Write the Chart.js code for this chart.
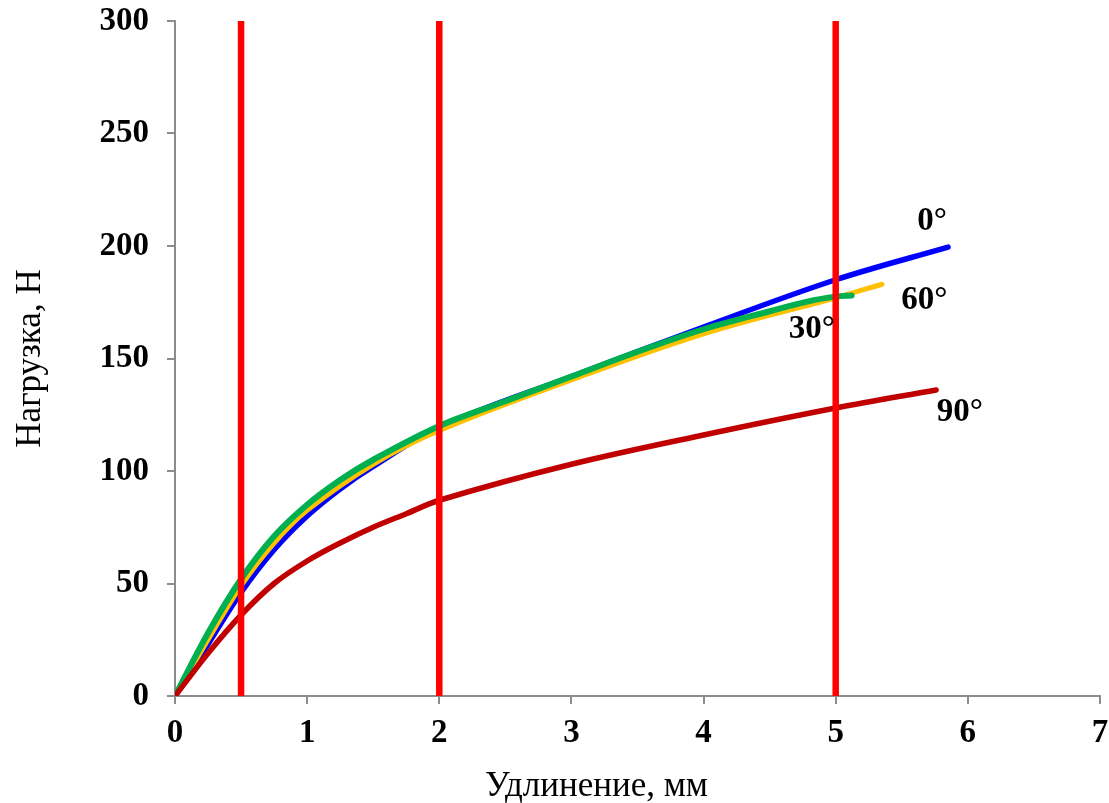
<!DOCTYPE html>
<html>
<head>
<meta charset="utf-8">
<script src="https://cdn.jsdelivr.net/npm/chart.js@4.4.0/dist/chart.umd.min.js"></script>
<style>
html,body{margin:0;padding:0;background:#fff;}
#wrap{width:1109px;height:803px;}
</style>
</head>
<body>
<div id="wrap"><canvas id="c" width="1109" height="803"></canvas></div>
<script>
const xTitle = "Удлинение, мм";
const yTitle = "Нагрузка, Н";

const x0 = [0, 0.25, 0.5, 0.75, 1, 1.25, 1.5, 2, 3, 4, 5, 5.85];
const y0 = [0, 23, 46, 65, 80, 92, 102, 119.5, 142, 164, 185, 199.5];

const x30 = [0, 0.25, 0.5, 0.75, 1, 1.25, 1.5, 2, 2.5, 3, 3.5, 4, 4.5, 4.8, 5, 5.12];
const y30 = [0, 28, 52, 71, 85, 96, 105, 120, 131, 142, 153, 163, 171, 175.5, 177.5, 178];

const x60 = [0, 0.25, 0.5, 0.75, 1, 1.5, 2, 3, 4, 5, 5.35];
const y60 = [0, 25, 49, 68, 82.5, 103, 118, 140.5, 161, 177, 183];

const x90 = [0, 0.25, 0.5, 0.75, 1, 1.25, 1.5, 1.75, 2, 3, 4, 5, 5.76];
const y90 = [0, 19, 36, 50, 60, 68, 75, 81, 87, 103, 116, 128, 136];

const markerX = [0.5, 2, 5];
const markerY = [0, 300];

const labelText = ["0°", "30°", "60°", "90°"];
const labelX = [5.73, 4.82, 5.67, 5.94];
const labelY = [211, 163, 176, 126];

const xTicks = [0, 1, 2, 3, 4, 5, 6, 7];
const yTicks = [0, 50, 100, 150, 200, 250, 300];

function pts(xs, ys) { return xs.map((x, i) => ({x: x, y: ys[i]})); }

const serif = "'Liberation Serif', 'Times New Roman', serif";

const curve = (label, xs, ys, color, w, order) => ({
  label, data: pts(xs, ys), borderColor: color, backgroundColor: color,
  borderWidth: w, pointRadius: 0, tension: 0.35, fill: false, order,
  borderCapStyle: 'round', borderJoinStyle: 'round'
});

const datasets = [
  curve("0°", x0, y0, "#0000FF", 5.5, 4),
  curve("60°", x60, y60, "#FFC000", 5, 3),
  curve("30°", x30, y30, "#00B050", 6, 2),
  curve("90°", x90, y90, "#C00000", 5.5, 1)
];
markerX.forEach(mx => {
  datasets.push({
    label: "m" + mx, data: markerY.map(v => ({x: mx, y: v})),
    borderColor: "#FF0000", borderWidth: 6.5, pointRadius: 0, tension: 0, order: 0,
    borderCapStyle: 'butt'
  });
});

const labelPlugin = {
  id: 'curveLabels',
  afterDatasetsDraw(chart) {
    const ctx = chart.ctx, xs = chart.scales.x, ys = chart.scales.y;
    ctx.save();
    ctx.font = "bold 33px " + serif;
    ctx.fillStyle = "#000";
    ctx.textAlign = "center";
    ctx.textBaseline = "middle";
    labelText.forEach((t, i) => {
      ctx.fillText(t, xs.getPixelForValue(labelX[i]), ys.getPixelForValue(labelY[i]));
    });
    // x-axis title, offset left of the plot centre as in the reference
    ctx.font = "35px " + serif;
    ctx.fillText(xTitle, xs.getPixelForValue(3.19), chart.height - 16);
    ctx.restore();
  }
};

new Chart(document.getElementById('c'), {
  type: 'line',
  data: { datasets },
  plugins: [labelPlugin],
  options: {
    responsive: false,
    animation: false,
    layout: { padding: { left: 0, right: 9, top: 21, bottom: 0 } },
    plugins: { legend: { display: false }, tooltip: { enabled: false } },
    scales: {
      x: {
        type: 'linear', min: 0, max: 7,
        afterBuildTicks(s) { s.ticks = xTicks.map(v => ({value: v})); },
        afterFit(s) { s.height = 107; s.paddingLeft = 0; s.paddingRight = 0; },
        grid: { drawOnChartArea: false, drawTicks: true, tickLength: 8, color: '#8c8c8c', lineWidth: 2 },
        border: { color: '#8c8c8c', width: 2 },
        ticks: { color: '#000', font: { family: serif, size: 33, weight: 'bold' }, padding: 10, maxRotation: 0 },
        title: { display: false }
      },
      y: {
        type: 'linear', min: 0, max: 300,
        afterBuildTicks(s) { s.ticks = yTicks.map(v => ({value: v})); },
        afterFit(s) { s.width = 175; s.paddingTop = 0; s.paddingBottom = 0; },
        grid: { drawOnChartArea: false, drawTicks: true, tickLength: 8, color: '#8c8c8c', lineWidth: 2 },
        border: { color: '#8c8c8c', width: 2 },
        ticks: { color: '#000', font: { family: serif, size: 33, weight: 'bold' }, padding: 18 },
        title: { display: true, text: yTitle, color: '#000', font: { family: serif, size: 35 }, padding: { top: 10, bottom: 0 } }
      }
    }
  }
});
</script>
</body>
</html>
